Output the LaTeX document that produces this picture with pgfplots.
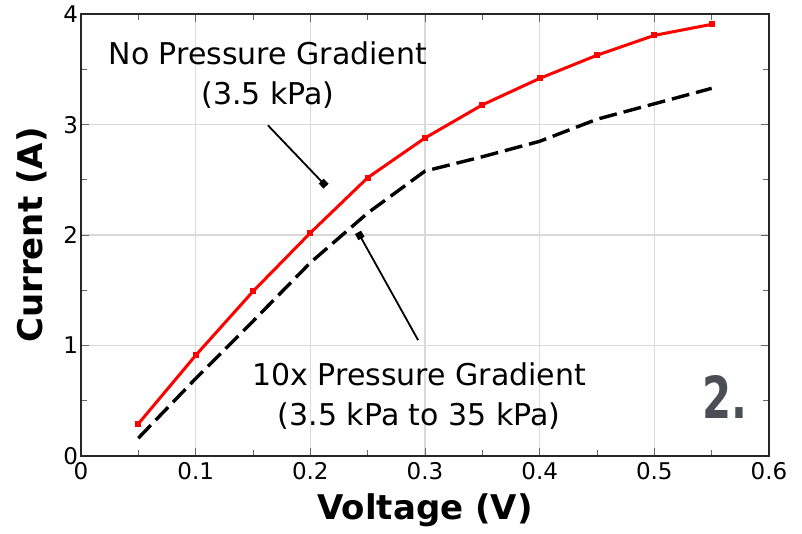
\documentclass[border=0pt]{standalone}
\usepackage{fontspec}
\setmainfont{DejaVu Sans}
\newfontfamily\condfont{DejaVu Sans Condensed}
\usepackage{graphicx}
\usepackage{pgfplots}
\pgfplotsset{compat=1.18}
\usetikzlibrary{arrows.meta}
\definecolor{labgray}{HTML}{4A4F55}
\begin{document}
\begin{tikzpicture}
\begin{axis}[
  name=ax,
  scale only axis,
  width=344pt,
  height=220.7pt,
  xmin=0, xmax=0.6,
  ymin=0, ymax=4,
  xtick={0,0.1,...,0.6},
  ytick={0,1,2,3,4},
  minor x tick num=1,
  minor y tick num=1,
  tick align=inside,
  major tick length=4pt,
  minor tick length=3pt,
  tick style={black!60,line width=0.5pt},
  grid=major,
  major grid style={black!15,line width=0.6pt},
  axis line style={black!85,line width=1.1pt},
  /pgf/number format/assume math mode=true,
  xticklabel style={/pgf/number format/fixed,/pgf/number format/precision=1},
  tick label style={font=\fontsize{11.5}{13}\selectfont},
  xlabel={\bfseries Voltage (V)},
  ylabel={\bfseries Current (A)},
  label style={font=\fontsize{17}{19}\selectfont},
  xlabel style={at={(axis description cs:0.5,0)},anchor=center,yshift=-27pt},
  ylabel style={at={(axis description cs:0,0.5)},anchor=center,yshift=24.5pt},
  yticklabel style={xshift=2pt},
  clip=false
]
\addplot[red,line width=1.5pt,mark=square*,mark size=0.7pt] coordinates {
  (0.05,0.29) (0.10,0.91) (0.15,1.49) (0.20,2.02) (0.25,2.52)
  (0.30,2.88) (0.35,3.18) (0.40,3.42) (0.45,3.63) (0.50,3.81) (0.55,3.91)
};
\addplot[black,line width=1.7pt,dash pattern=on 9pt off 3.5pt] coordinates {
  (0.05,0.16) (0.10,0.70) (0.15,1.22) (0.20,1.75) (0.25,2.20)
  (0.30,2.58) (0.35,2.71) (0.40,2.85) (0.45,3.05) (0.50,3.19) (0.55,3.33)
};
\node[align=center,font=\fontsize{15}{20}\selectfont] at (axis cs:0.163,3.45)
  {No Pressure Gradient\\(3.5 kPa)};
\node[align=center,font=\fontsize{15}{20}\selectfont] at (axis cs:0.295,0.54)
  {10x Pressure Gradient\\(3.5 kPa to 35 kPa)};
\draw[line width=0.9pt,-{Square[length=3.5pt,width=3.5pt]}] (axis cs:0.163,2.995) -- (axis cs:0.2137,2.443);
\draw[line width=0.9pt,-{Square[length=3.5pt,width=3.5pt]}] (axis cs:0.294,1.048) -- (axis cs:0.2416,2.025);
\node[font=\condfont\bfseries\fontsize{29}{30}\selectfont,text=labgray] at (axis cs:0.5617,0.53) {\scalebox{0.8}[1]{2.}};
\end{axis}
\pgfresetboundingbox
\path[use as bounding box] ([xshift=-40.5pt,yshift=-38.6pt]ax.south west) rectangle ([xshift=16.5pt,yshift=7.2pt]ax.north east);
\end{tikzpicture}
\end{document}
